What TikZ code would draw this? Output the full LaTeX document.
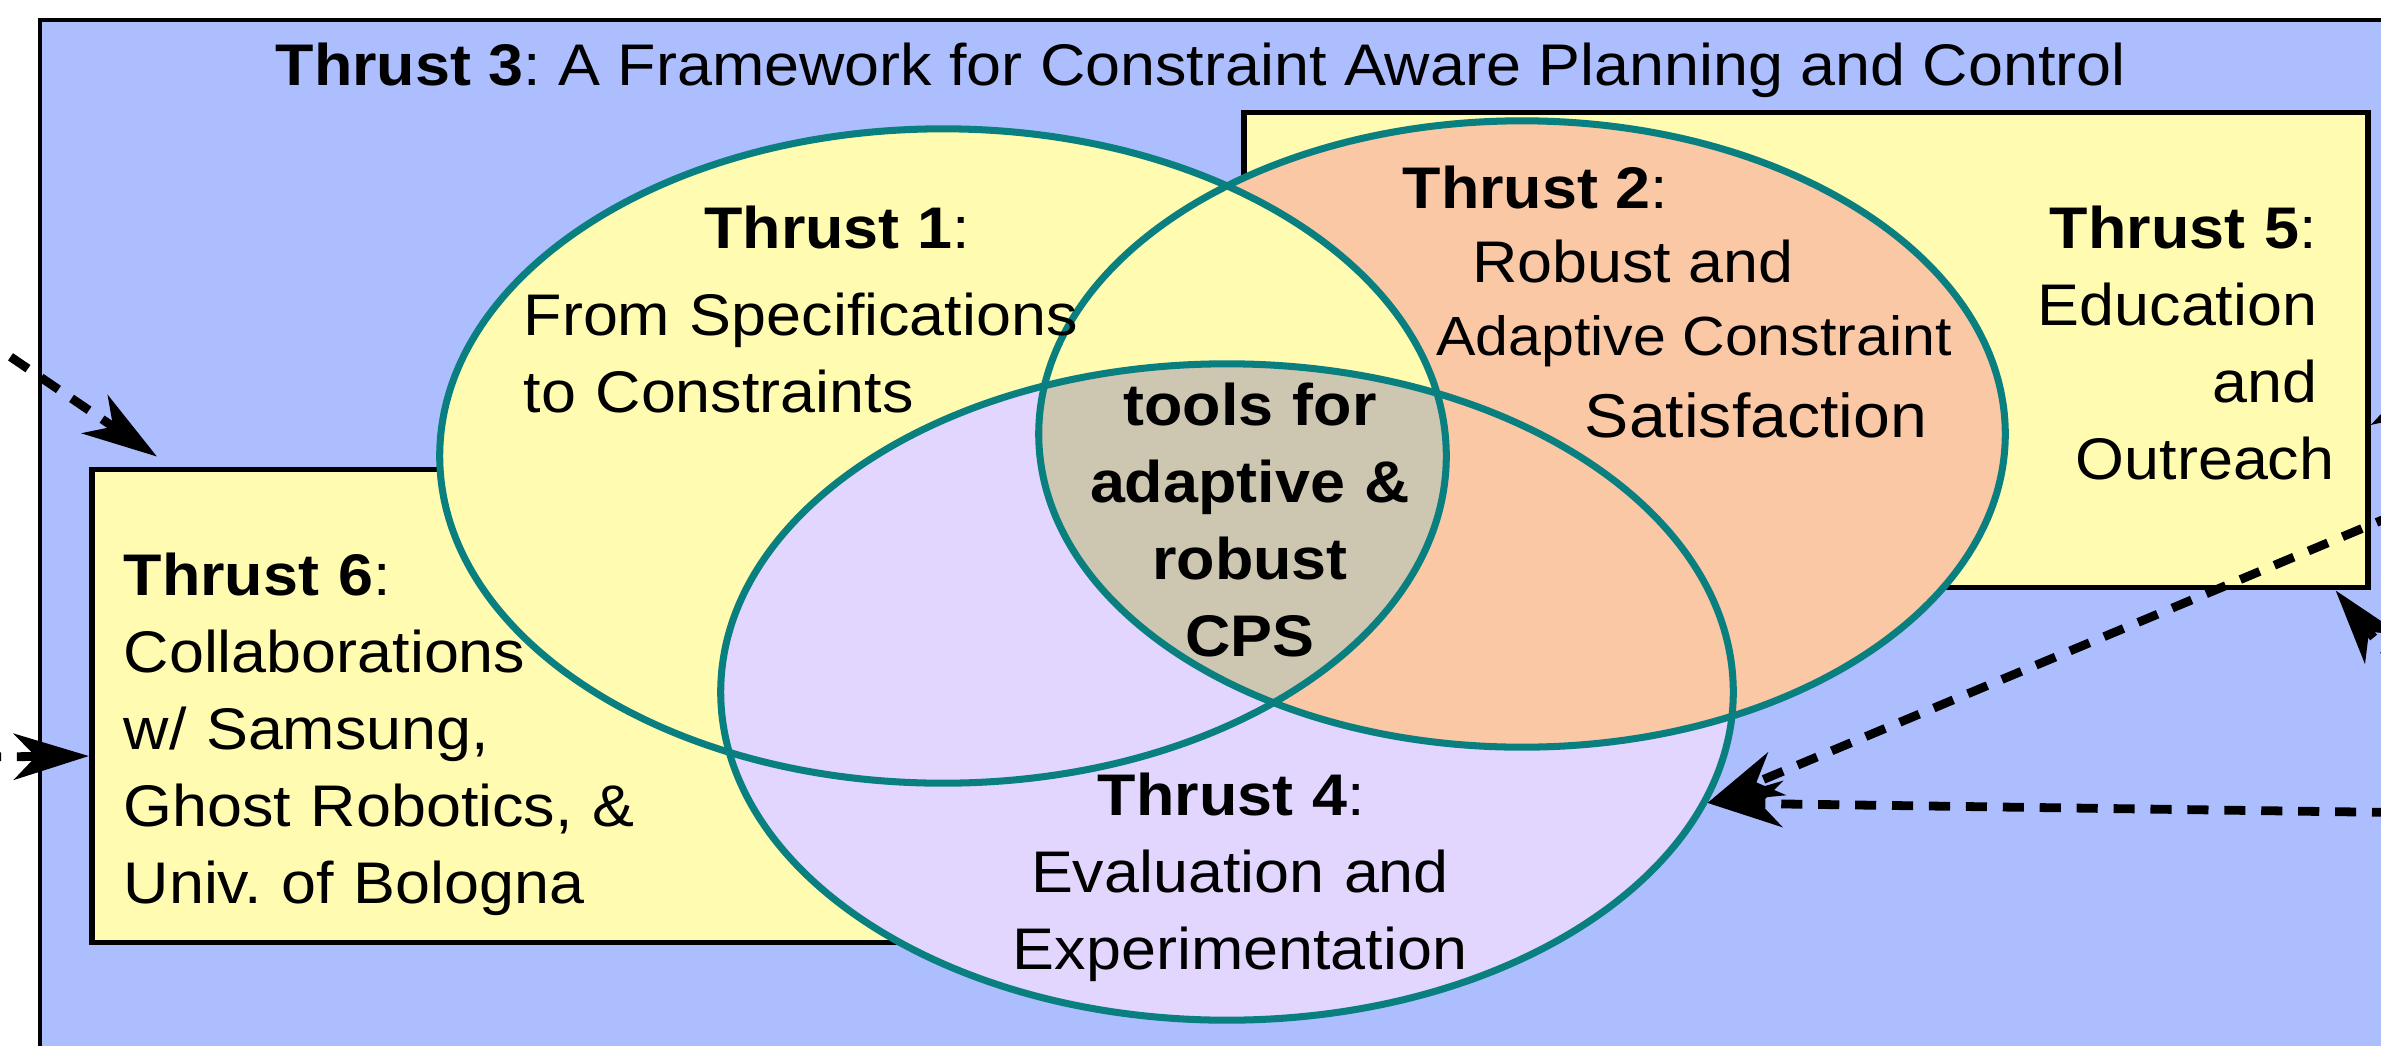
\documentclass[tikz,border=0pt]{standalone}
\usepackage{fontspec}
\setmainfont{Liberation Sans}[FakeStretch=1.07]
\frenchspacing
\usetikzlibrary{arrows.meta, shapes.geometric}
\definecolor{frameBlue}{HTML}{ADBEFF}
\definecolor{paleYellow}{HTML}{FFFCB2}
\definecolor{peach}{HTML}{FAC8A5}
\definecolor{lavender}{HTML}{E2D6FF}
\definecolor{coreGray}{HTML}{CDC7B2}
\definecolor{vennTeal}{HTML}{0A7F7F}

\begin{document}
\begin{tikzpicture}[x=0.01cm, y=-0.01cm,
    lbl/.style={inner sep=0pt, font=\fontsize{16.7}{21.9}\selectfont},
    panel/.style={draw, line width=1.6pt, fill=paleYellow},
    venn/.style={ellipse, draw=vennTeal, line width=2pt, inner sep=0pt},
    link/.style={line width=2.5pt, dash pattern=on 6pt off 4.5pt,
        -{Stealth[length=7.5mm, width=4.6mm, inset=2.2mm]}}]
    \useasboundingbox (0,0) rectangle (2381,1045);
    \clip (0,0) rectangle (2381,1045);
    % outer frame (thrust 3)
    \draw[line width=1.3pt, fill=frameBlue] (40,20) rectangle (2500,1100);
    \node[lbl, anchor=base west] (title) at (275,85)
        {\textbf{Thrust 3}: A Framework for Constraint Aware Planning and Control};
    % side boxes
    \node[panel, minimum width=9.08cm, minimum height=4.73cm] (box6) at (546,706) {};
    \node[panel, minimum width=11.23cm, minimum height=4.75cm] (box5) at (1806,350) {};
    % venn fills
    \fill[peach] (1522,434) ellipse [x radius=4.83cm, y radius=3.13cm];
    \fill[paleYellow] (943,456) ellipse [x radius=5.03cm, y radius=3.27cm];
    \fill[lavender] (1227,692) ellipse [x radius=5.06cm, y radius=3.28cm];
    \begin{scope}
        \clip (1522,434) ellipse [x radius=4.83cm, y radius=3.13cm];
        \fill[peach] (1227,692) ellipse [x radius=5.06cm, y radius=3.28cm];
        \clip (943,456) ellipse [x radius=5.03cm, y radius=3.27cm];
        \fill[coreGray] (1227,692) ellipse [x radius=5.06cm, y radius=3.28cm];
    \end{scope}
    % venn outlines
    \node[venn, minimum width=10.06cm, minimum height=6.54cm] (e1) at (943,456) {};
    \node[venn, minimum width=9.66cm, minimum height=6.26cm] (e2) at (1522,434) {};
    \node[venn, minimum width=10.12cm, minimum height=6.56cm] (e4) at (1227,692) {};
    % labels
    \node[lbl, anchor=base] (t1) at (837,248) {\textbf{Thrust 1}:};
    \node[lbl, anchor=base west, text width=6cm, align=left] (t1b) at (523,335)
        {From Specifications\\to Constraints};
    \node[lbl, anchor=base west] (t2) at (1402,208) {\textbf{Thrust 2}:};
    \node[lbl, anchor=base] (t2a) at (1633,282) {Robust and};
    \node[lbl, anchor=base, font=\fontsize{15.7}{20}\selectfont] (t2b) at (1694,355)
        {Adaptive Constraint};
    \node[lbl, anchor=base, font=\fontsize{17.6}{21}\selectfont] (t2c) at (1756,437)
        {Satisfaction};
    \node[lbl, anchor=base east, text width=5cm, align=right] (t5) at (2335,248)
        {\textbf{Thrust 5}:\kern0.17cm\\Education\kern0.17cm\\and\kern0.17cm\\Outreach};
    \node[lbl, anchor=base west, text width=6cm, align=left] (t6) at (123,595)
        {\textbf{Thrust 6}:\\Collaborations\\w/ Samsung,\\Ghost Robotics, \&\\Univ. of Bologna};
    \node[lbl, anchor=base, text width=6cm, align=center] (t4) at (1240,815)
        {\textbf{Thrust 4}:\kern0.17cm\\Evaluation and\\Experimentation};
    \node[lbl, anchor=base, text width=5cm, align=center] (core) at (1250,425)
        {\bfseries tools for\\adaptive \&\\robust\\CPS};
    % incoming links
    \coordinate (src6a) at (-20,336);
    \coordinate (src6b) at (-20,757);
    \coordinate (src4a) at (2430,500);
    \coordinate (src4b) at (2430,813);
    \coordinate (src5a) at (2420,695);
    \coordinate (src5b) at (2460,374);
    \draw[link] (src6a) -- ([xshift=0.68cm, yshift=0.1cm]box6.north west);
    \draw[link] (src6b) -- ([yshift=-0.5cm]box6.west);
    \draw[link] (src4a) -- (e4.-13);
    \draw[link] (src4b) -- (e4.-13);
    \draw[link] (src5a) -- ([xshift=-0.35cm]box5.south east);
    \draw[link] (src5b) -- ([yshift=-0.75cm]box5.east);
\end{tikzpicture}
\end{document}
